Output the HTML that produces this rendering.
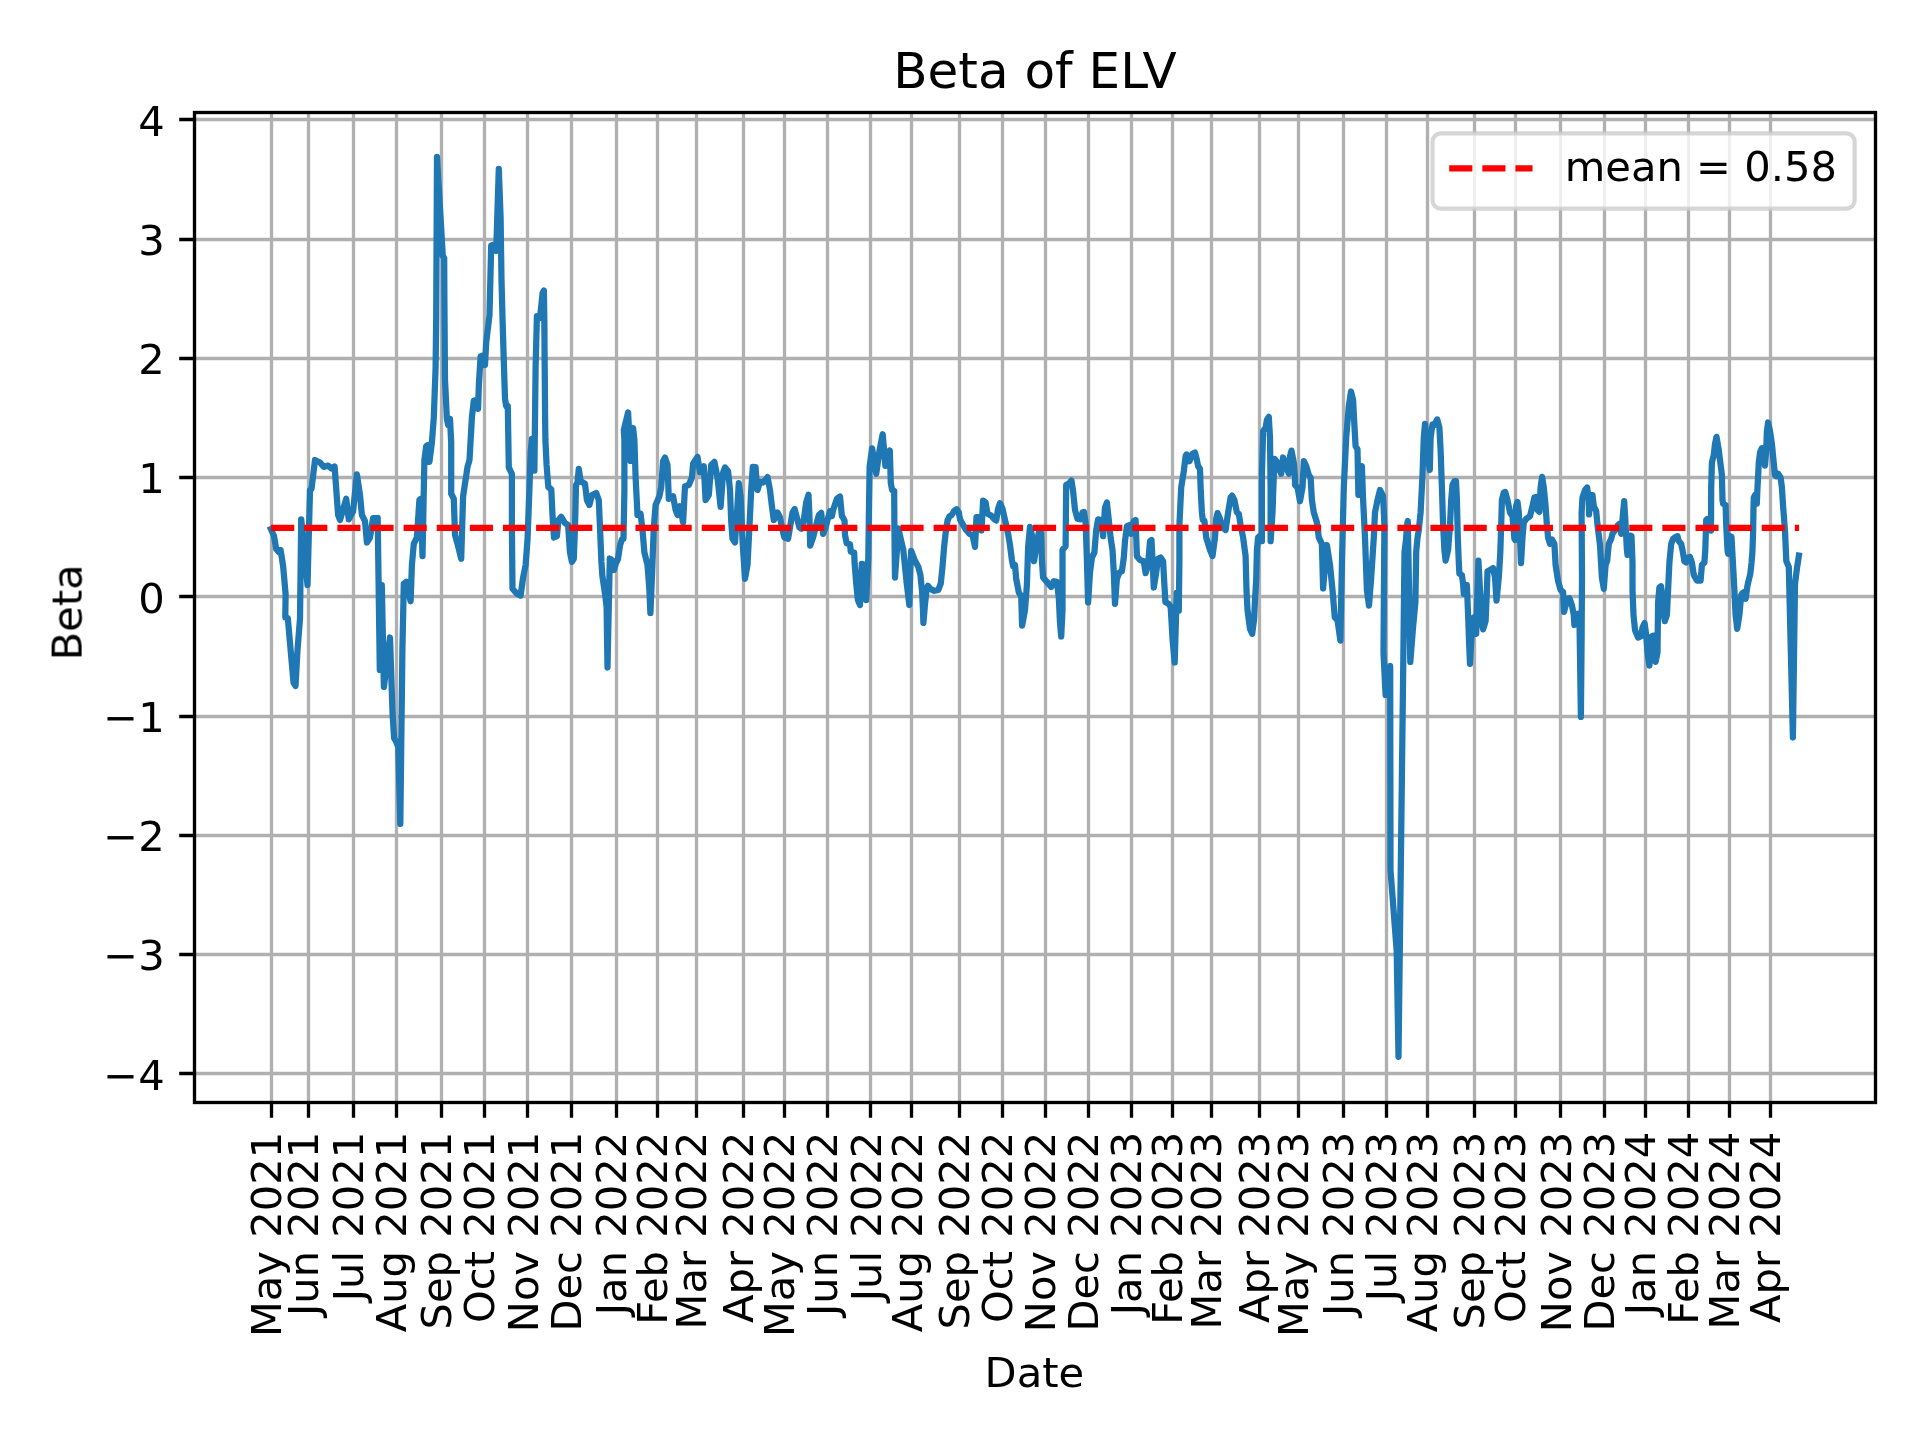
<!DOCTYPE html>
<html lang="en"><head><meta charset="utf-8"><title>Beta of ELV</title>
<style>html,body{margin:0;padding:0;background:#fff}svg{display:block}text{font-family:'DejaVu Sans','Liberation Sans',sans-serif;fill:#000}</style></head><body>
<svg width="1920" height="1440" viewBox="0 0 1920 1440">
<rect width="1920" height="1440" fill="#fff"/>
<path d="M271.50 112.5V1102.5M308.50 112.5V1102.5M353.50 112.5V1102.5M396.50 112.5V1102.5M441.50 112.5V1102.5M484.50 112.5V1102.5M527.50 112.5V1102.5M571.50 112.5V1102.5M616.50 112.5V1102.5M657.50 112.5V1102.5M696.50 112.5V1102.5M743.50 112.5V1102.5M784.50 112.5V1102.5M827.50 112.5V1102.5M870.50 112.5V1102.5M911.50 112.5V1102.5M959.50 112.5V1102.5M1002.50 112.5V1102.5M1045.50 112.5V1102.5M1088.50 112.5V1102.5M1131.50 112.5V1102.5M1172.50 112.5V1102.5M1211.50 112.5V1102.5M1259.50 112.5V1102.5M1298.50 112.5V1102.5M1343.50 112.5V1102.5M1386.50 112.5V1102.5M1427.50 112.5V1102.5M1474.50 112.5V1102.5M1515.50 112.5V1102.5M1560.50 112.5V1102.5M1604.50 112.5V1102.5M1645.50 112.5V1102.5M1688.50 112.5V1102.5M1729.50 112.5V1102.5M1770.50 112.5V1102.5M194.5 1073.50H1875.5M194.5 954.50H1875.5M194.5 835.50H1875.5M194.5 716.50H1875.5M194.5 596.50H1875.5M194.5 477.50H1875.5M194.5 358.50H1875.5M194.5 239.50H1875.5M194.5 119.50H1875.5" stroke="#b0b0b0" stroke-width="3.333" fill="none"/>
<path d="M271.50 1102.5v15.3M308.50 1102.5v15.3M353.50 1102.5v15.3M396.50 1102.5v15.3M441.50 1102.5v15.3M484.50 1102.5v15.3M527.50 1102.5v15.3M571.50 1102.5v15.3M616.50 1102.5v15.3M657.50 1102.5v15.3M696.50 1102.5v15.3M743.50 1102.5v15.3M784.50 1102.5v15.3M827.50 1102.5v15.3M870.50 1102.5v15.3M911.50 1102.5v15.3M959.50 1102.5v15.3M1002.50 1102.5v15.3M1045.50 1102.5v15.3M1088.50 1102.5v15.3M1131.50 1102.5v15.3M1172.50 1102.5v15.3M1211.50 1102.5v15.3M1259.50 1102.5v15.3M1298.50 1102.5v15.3M1343.50 1102.5v15.3M1386.50 1102.5v15.3M1427.50 1102.5v15.3M1474.50 1102.5v15.3M1515.50 1102.5v15.3M1560.50 1102.5v15.3M1604.50 1102.5v15.3M1645.50 1102.5v15.3M1688.50 1102.5v15.3M1729.50 1102.5v15.3M1770.50 1102.5v15.3M194.5 1073.50h-15.3M194.5 954.50h-15.3M194.5 835.50h-15.3M194.5 716.50h-15.3M194.5 596.50h-15.3M194.5 477.50h-15.3M194.5 358.50h-15.3M194.5 239.50h-15.3M194.5 119.50h-15.3" stroke="#000" stroke-width="3.333" fill="none"/>
<path d="M270.9 529.0L274.0 536.0L276.2 549.0L278.7 552.0L280.6 550.0L283.1 566.0L285.6 594.0L285.3 617.5L287.8 618.0L293.5 682.5L295.5 686.0L297.5 650.0L300.0 618.8L301.2 519.4L307.5 585.0L310.0 490.0L311.5 489.0L315.0 460.0L320.0 462.5L323.8 466.9L328.1 465.6L331.5 468.5L334.6 466.5L338.1 515.0L340.0 520.0L346.2 498.8L348.8 519.4L353.1 511.2L356.9 474.4L360.0 495.0L361.9 515.0L365.0 521.2L366.9 542.5L370.0 537.5L373.1 518.1L375.6 518.1L377.7 518.0L379.8 670.0L381.8 585.0L383.9 687.0L390.0 637.5L392.5 712.5L394.1 738.0L396.3 742.0L398.3 747.0L400.3 824.0L402.4 650.0L403.8 583.8L406.2 581.9L410.6 601.2L411.9 565.0L413.8 543.8L416.9 537.5L419.4 500.0L420.9 498.8L422.5 556.2L424.4 460.0L426.2 446.2L428.1 445.0L429.4 461.9L431.9 442.5L433.8 417.5L435.6 367.5L436.2 317.5L437.0 156.9L442.8 256.0L444.2 258.0L444.4 300.0L445.0 380.0L446.9 418.8L448.1 425.0L450.0 418.8L451.2 442.5L451.2 493.8L453.8 498.8L455.0 535.0L457.5 543.8L461.2 558.8L463.1 496.2L467.5 466.9L469.5 460.0L471.9 417.5L473.8 400.6L476.9 400.0L478.1 408.8L478.8 386.2L480.6 356.2L483.1 355.6L485.0 365.0L486.2 342.5L489.5 315.0L491.2 245.5L494.5 244.5L496.2 251.0L498.8 168.8L500.6 217.5L501.5 280.0L502.5 317.5L503.8 361.2L505.0 398.8L506.2 406.2L507.8 406.2L508.8 467.5L511.9 473.8L511.9 527.5L512.5 588.8L516.9 593.8L520.6 595.6L523.1 577.5L525.6 565.0L527.5 540.0L529.4 490.0L530.6 452.5L531.9 439.0L534.4 470.6L535.6 367.5L536.9 316.2L540.0 318.0L542.6 293.0L543.9 290.6L544.3 317.5L544.7 367.5L545.1 417.5L545.4 440.0L546.6 465.0L548.3 487.0L551.3 489.5L552.5 515.0L554.0 537.5L556.9 536.2L558.5 520.0L561.2 516.9L565.0 523.1L568.1 525.0L570.0 552.5L571.9 561.9L573.8 558.8L575.0 527.5L576.0 485.0L577.5 482.5L578.8 468.8L580.6 481.2L585.0 483.8L586.9 500.0L589.4 505.0L591.9 495.0L596.2 493.1L598.8 500.0L600.0 527.5L601.4 562.0L602.4 576.0L605.4 596.5L606.6 607.0L607.5 667.5L609.8 558.5L611.9 560.0L613.9 570.0L616.0 563.0L618.0 559.0L620.1 545.0L622.1 539.0L623.5 538.8L624.4 490.0L624.4 440.0L623.8 430.0L628.1 412.5L630.6 461.0L633.1 428.0L634.4 440.0L635.6 477.5L637.5 515.0L640.6 513.8L642.5 530.0L644.4 552.5L647.5 565.0L649.4 590.0L650.4 613.0L651.9 577.5L653.8 527.5L655.6 505.0L659.4 496.2L661.2 487.5L663.1 461.2L665.0 457.5L667.5 465.0L668.8 498.8L673.1 496.2L675.6 510.0L677.5 515.0L680.0 506.2L683.1 522.5L685.0 486.2L688.8 485.0L691.9 477.5L693.1 463.8L697.5 456.9L700.0 472.5L703.8 466.2L705.6 500.0L708.8 495.0L711.2 465.0L714.4 461.9L717.5 477.5L720.6 506.9L723.1 472.5L725.0 467.5L728.1 471.2L730.0 490.0L731.2 521.2L732.5 538.8L735.0 542.5L736.9 515.0L738.8 483.1L740.6 496.2L742.5 540.0L745.0 578.8L747.5 565.0L749.4 527.5L751.2 490.0L752.8 466.9L755.6 467.2L756.9 487.5L758.8 483.1L757.5 490.0L760.0 481.9L763.1 482.5L767.5 477.1L770.0 490.0L771.9 506.2L773.8 520.0L777.5 512.5L780.0 517.5L782.5 530.0L784.4 537.5L788.1 538.8L790.0 527.5L792.5 512.5L794.6 509.0L796.9 517.5L799.4 527.5L801.2 528.8L803.8 520.0L806.2 502.5L808.5 494.8L809.4 515.0L810.2 545.6L813.1 537.5L816.2 525.0L818.8 515.0L821.2 512.9L823.1 533.8L825.6 527.5L827.5 520.0L830.0 511.2L831.9 516.2L833.1 510.0L836.9 498.8L840.0 496.5L841.9 516.2L842.5 516.7L844.6 520.8L845.0 535.0L846.7 543.3L850.0 544.2L850.8 551.7L854.2 552.5L854.6 563.3L856.2 583.3L857.9 600.0L860.0 605.0L861.8 563.8L864.2 564.6L866.2 600.0L868.3 558.3L868.8 520.0L869.6 466.7L872.1 448.3L876.2 473.8L879.6 450.0L882.7 434.2L885.4 465.8L889.8 450.4L890.8 483.0L892.1 490.0L894.2 490.8L894.4 527.5L895.0 577.5L897.5 541.7L898.3 528.3L903.3 550.0L906.7 583.3L909.3 605.0L910.4 566.7L911.2 550.8L915.0 560.8L918.3 566.7L920.4 575.0L922.1 591.7L922.9 608.3L923.4 623.0L925.0 604.2L926.7 588.3L927.9 585.8L930.8 589.2L934.2 590.8L938.3 590.0L940.8 583.3L942.5 566.7L944.2 545.8L945.8 531.7L947.5 520.8L949.2 516.7L951.7 515.0L954.2 510.8L956.7 509.2L958.8 512.5L960.0 519.2L963.1 525.0L966.2 530.0L969.4 533.8L972.5 535.0L975.0 546.9L976.5 517.0L980.0 517.0L981.5 530.5L983.1 500.6L985.6 502.5L987.5 513.8L991.2 515.6L993.8 518.8L996.2 520.6L998.1 508.8L1000.0 503.1L1002.5 508.8L1005.0 520.0L1008.1 533.8L1010.0 545.0L1011.9 560.0L1013.1 566.2L1015.0 565.0L1016.2 578.8L1018.8 592.5L1021.2 596.2L1022.1 625.6L1025.0 610.0L1026.9 585.0L1028.1 547.5L1030.0 526.9L1031.9 535.0L1034.0 561.2L1036.2 547.5L1038.8 532.5L1041.2 533.1L1041.9 560.0L1043.1 577.5L1046.9 581.9L1051.2 586.9L1053.8 581.2L1056.9 581.9L1058.8 597.5L1060.0 622.5L1061.2 636.5L1062.5 610.0L1062.5 550.0L1065.6 546.2L1066.2 485.0L1069.4 483.1L1071.5 480.6L1073.1 491.2L1075.0 510.0L1077.5 518.8L1080.6 519.4L1082.5 512.5L1084.0 511.9L1085.6 522.5L1086.9 560.0L1088.1 602.5L1090.0 572.5L1091.9 557.5L1094.4 552.5L1096.2 530.0L1098.1 519.4L1101.2 520.0L1103.1 536.2L1105.0 507.5L1106.9 502.5L1108.8 520.0L1110.6 537.5L1112.5 550.0L1113.8 572.5L1115.0 603.8L1116.9 578.8L1119.4 572.5L1121.9 571.2L1123.8 557.5L1125.0 541.2L1126.9 526.2L1130.0 525.0L1131.2 533.8L1133.8 521.2L1135.6 520.0L1136.9 556.2L1140.0 560.0L1143.8 561.2L1145.6 573.1L1148.1 563.8L1150.0 541.2L1151.5 540.0L1153.1 572.5L1153.8 587.5L1156.2 572.5L1158.1 558.8L1160.6 557.5L1163.1 561.2L1164.4 585.0L1165.4 602.0L1168.8 604.0L1170.7 607.0L1172.6 640.0L1174.7 662.5L1176.7 593.0L1178.8 610.6L1179.4 560.0L1179.4 525.0L1181.2 487.5L1183.8 471.2L1185.6 456.2L1186.5 454.4L1189.4 461.2L1192.5 453.8L1195.0 452.5L1196.9 460.0L1198.1 466.2L1200.0 468.8L1200.6 487.5L1201.9 512.5L1202.8 520.0L1204.4 520.6L1206.2 537.5L1210.0 550.0L1212.5 556.0L1215.0 537.5L1216.2 518.8L1217.5 513.1L1220.0 518.8L1222.5 527.5L1225.6 530.0L1228.1 512.5L1230.6 497.5L1232.1 495.6L1234.4 500.0L1236.9 512.5L1238.8 513.8L1240.6 525.0L1243.1 537.5L1245.6 556.2L1246.5 590.0L1247.5 610.0L1250.0 629.0L1252.2 633.8L1254.1 618.8L1255.0 600.0L1256.2 580.0L1256.9 550.0L1258.1 537.5L1261.2 535.0L1261.9 541.2L1261.9 475.0L1263.1 431.2L1265.6 427.5L1266.9 420.0L1268.8 416.9L1270.0 437.5L1270.6 487.5L1270.6 541.2L1272.5 512.5L1274.4 458.8L1277.5 462.5L1279.4 470.0L1281.2 473.8L1283.1 457.5L1285.6 465.0L1288.8 473.8L1290.0 456.2L1291.5 450.6L1293.8 462.5L1295.0 477.5L1295.0 485.0L1297.5 487.5L1300.0 501.2L1302.5 487.5L1303.8 461.2L1306.2 466.2L1308.8 475.0L1310.6 477.5L1311.9 500.0L1313.8 512.5L1316.9 522.5L1318.8 537.5L1321.9 543.8L1323.1 588.5L1326.9 545.0L1330.0 565.0L1332.5 590.0L1334.8 617.5L1337.5 620.0L1340.4 640.6L1342.0 560.0L1343.8 487.5L1346.2 437.5L1348.8 406.2L1351.0 391.5L1353.1 400.0L1354.4 425.0L1355.6 446.2L1357.5 449.4L1358.4 495.0L1361.9 466.2L1363.1 500.0L1365.0 537.5L1366.9 590.0L1369.0 605.6L1371.2 577.5L1373.8 537.5L1375.0 512.5L1377.5 500.0L1380.0 490.0L1383.1 496.2L1384.4 525.0L1383.5 652.5L1385.6 695.0L1390.2 666.0L1390.5 870.0L1396.7 951.0L1398.5 1056.8L1403.3 660.0L1404.5 552.0L1406.0 540.0L1407.0 525.0L1407.8 521.0L1410.3 662.0L1413.0 628.0L1415.4 602.0L1416.2 552.0L1417.5 538.0L1418.8 530.0L1420.6 512.5L1422.5 475.0L1423.8 437.5L1425.0 423.8L1426.9 450.0L1429.8 470.0L1430.6 437.5L1432.5 424.4L1434.4 425.0L1437.2 419.4L1439.4 427.5L1440.6 450.0L1441.9 487.5L1443.1 525.0L1444.4 550.0L1445.6 560.6L1448.1 550.0L1450.0 525.0L1451.2 500.0L1452.5 485.0L1454.4 481.2L1456.0 481.2L1456.9 500.0L1457.8 537.5L1458.8 562.5L1459.4 573.8L1461.9 575.0L1463.1 583.8L1463.8 593.8L1466.9 585.0L1468.1 615.0L1469.0 640.0L1470.0 663.8L1471.9 627.5L1473.8 617.5L1476.2 633.8L1477.5 590.0L1478.4 560.6L1480.0 590.0L1481.9 621.2L1483.1 629.4L1485.6 621.2L1486.9 590.0L1487.5 571.2L1490.0 570.0L1493.1 568.1L1495.0 577.5L1496.5 600.6L1498.8 577.5L1500.3 552.5L1501.2 525.0L1501.9 500.0L1503.8 492.5L1505.2 491.9L1507.5 500.0L1510.0 512.5L1512.5 516.2L1514.4 538.8L1515.2 540.0L1516.0 506.2L1517.5 501.9L1518.8 512.5L1520.0 537.5L1521.0 563.1L1522.5 537.5L1523.8 522.5L1526.2 518.8L1530.0 516.2L1532.5 506.2L1534.4 497.5L1536.2 496.9L1537.5 510.0L1539.4 511.9L1540.6 487.5L1542.1 476.9L1543.8 487.5L1545.6 506.2L1546.9 525.0L1548.1 537.5L1550.0 543.8L1551.9 539.4L1554.4 543.8L1555.6 565.0L1558.1 581.2L1560.6 590.0L1563.1 591.9L1564.0 611.9L1567.5 598.8L1569.4 598.1L1571.9 605.0L1573.8 615.0L1574.4 625.0L1578.1 613.8L1579.4 615.0L1580.9 716.9L1581.6 640.0L1582.0 577.5L1581.6 512.5L1582.5 497.5L1585.0 490.0L1587.1 487.5L1588.8 500.0L1589.0 514.4L1590.6 495.0L1592.5 495.0L1593.8 506.2L1596.2 511.2L1597.5 525.0L1600.0 545.0L1601.9 577.5L1603.8 588.8L1605.6 565.0L1607.2 560.6L1608.8 543.8L1611.2 538.8L1612.5 533.8L1615.0 530.0L1618.1 525.0L1619.4 523.8L1621.2 533.8L1623.1 512.5L1624.2 501.2L1625.6 525.0L1626.9 550.0L1627.5 555.0L1630.0 535.6L1631.5 536.0L1632.5 562.5L1632.5 590.0L1633.5 615.0L1635.0 630.0L1638.1 637.5L1641.2 636.2L1642.5 627.5L1644.6 623.1L1646.2 635.0L1647.5 652.5L1649.4 665.6L1650.6 646.2L1651.9 636.2L1653.8 635.6L1655.0 652.5L1655.6 661.9L1657.5 652.5L1658.1 602.5L1659.4 587.5L1661.0 586.2L1662.5 596.2L1663.8 615.0L1664.8 621.2L1666.9 615.0L1668.1 590.0L1669.4 562.5L1671.2 543.8L1673.1 538.8L1675.6 536.9L1677.5 536.2L1678.8 541.2L1681.2 543.8L1682.5 550.0L1684.4 561.2L1686.2 562.5L1688.1 557.5L1690.0 556.9L1691.9 562.5L1693.8 575.0L1696.9 580.6L1700.6 580.6L1701.9 565.0L1704.4 562.5L1705.3 550.0L1706.2 520.0L1707.5 518.8L1710.6 518.8L1711.0 530.6L1711.2 487.5L1711.9 462.5L1713.8 455.0L1715.0 443.8L1716.5 436.9L1718.8 450.0L1720.0 460.0L1721.9 475.0L1722.5 500.0L1723.1 503.8L1725.6 505.0L1726.2 525.0L1727.5 550.0L1728.1 553.8L1730.0 536.2L1731.5 536.9L1732.5 555.0L1734.4 590.0L1735.6 615.0L1737.2 628.8L1739.4 615.0L1741.2 595.0L1742.5 593.1L1744.4 591.9L1745.6 598.8L1747.4 586.0L1749.0 579.0L1750.3 574.0L1751.5 563.0L1752.4 552.0L1753.1 532.0L1753.5 507.0L1753.8 497.5L1755.0 495.0L1756.8 503.8L1757.5 487.5L1758.8 462.5L1760.0 452.5L1761.9 448.1L1763.8 448.1L1765.0 465.6L1766.2 450.0L1766.9 431.2L1768.1 422.5L1770.0 431.2L1771.9 443.8L1773.1 456.2L1775.0 475.0L1776.2 476.2L1778.1 473.8L1780.6 477.5L1781.9 487.5L1783.1 506.2L1785.0 531.2L1786.3 561.0L1788.8 567.0L1792.9 737.5L1795.0 584.0L1797.0 568.0L1798.9 555.5" stroke="#1f77b4" stroke-width="6.25" fill="none" stroke-linejoin="round" stroke-linecap="square"/>
<path d="M271.1 527.8H1799.1" stroke="#ff0000" stroke-width="6.25" stroke-dasharray="23.125 10" fill="none"/>
<rect x="194.5" y="112.5" width="1681.0" height="990.00" fill="none" stroke="#000" stroke-width="3.333"/>
<rect x="1432.54" y="133.33" width="422.13" height="75.34" rx="8.33" ry="8.33" fill="#fff" fill-opacity="0.8" stroke="#cccccc" stroke-opacity="0.8" stroke-width="4.167"/>
<path d="M1449.2 168.42H1532.54" stroke="#ff0000" stroke-width="6.25" stroke-dasharray="23.125 10" fill="none"/>
<g opacity="0.999">
<text font-size="41.667" transform="translate(280.90 1337.10) rotate(-90)">May 2021</text>
<text font-size="41.667" transform="translate(317.86 1316.05) rotate(-90)">Jun 2021</text>
<text font-size="41.667" transform="translate(363.04 1301.22) rotate(-90)">Jul 2021</text>
<text font-size="41.667" transform="translate(406.16 1332.31) rotate(-90)">Aug 2021</text>
<text font-size="41.667" transform="translate(451.34 1329.49) rotate(-90)">Sep 2021</text>
<text font-size="41.667" transform="translate(494.46 1322.99) rotate(-90)">Oct 2021</text>
<text font-size="41.667" transform="translate(537.59 1332.28) rotate(-90)">Nov 2021</text>
<text font-size="41.667" transform="translate(580.71 1331.58) rotate(-90)">Dec 2021</text>
<text font-size="41.667" transform="translate(625.89 1315.18) rotate(-90)">Jan 2022</text>
<text font-size="41.667" transform="translate(666.96 1324.71) rotate(-90)">Feb 2022</text>
<text font-size="41.667" transform="translate(705.97 1329.56) rotate(-90)">Mar 2022</text>
<text font-size="41.667" transform="translate(753.21 1323.03) rotate(-90)">Apr 2022</text>
<text font-size="41.667" transform="translate(794.27 1337.10) rotate(-90)">May 2022</text>
<text font-size="41.667" transform="translate(837.40 1316.05) rotate(-90)">Jun 2022</text>
<text font-size="41.667" transform="translate(880.52 1301.22) rotate(-90)">Jul 2022</text>
<text font-size="41.667" transform="translate(921.59 1332.31) rotate(-90)">Aug 2022</text>
<text font-size="41.667" transform="translate(968.82 1329.49) rotate(-90)">Sep 2022</text>
<text font-size="41.667" transform="translate(1011.95 1322.99) rotate(-90)">Oct 2022</text>
<text font-size="41.667" transform="translate(1055.07 1332.28) rotate(-90)">Nov 2022</text>
<text font-size="41.667" transform="translate(1098.19 1331.58) rotate(-90)">Dec 2022</text>
<text font-size="41.667" transform="translate(1141.32 1315.18) rotate(-90)">Jan 2023</text>
<text font-size="41.667" transform="translate(1182.39 1324.71) rotate(-90)">Feb 2023</text>
<text font-size="41.667" transform="translate(1221.40 1329.56) rotate(-90)">Mar 2023</text>
<text font-size="41.667" transform="translate(1268.63 1323.03) rotate(-90)">Apr 2023</text>
<text font-size="41.667" transform="translate(1307.65 1337.10) rotate(-90)">May 2023</text>
<text font-size="41.667" transform="translate(1352.83 1316.05) rotate(-90)">Jun 2023</text>
<text font-size="41.667" transform="translate(1395.95 1301.22) rotate(-90)">Jul 2023</text>
<text font-size="41.667" transform="translate(1437.02 1332.31) rotate(-90)">Aug 2023</text>
<text font-size="41.667" transform="translate(1484.25 1329.49) rotate(-90)">Sep 2023</text>
<text font-size="41.667" transform="translate(1525.32 1322.99) rotate(-90)">Oct 2023</text>
<text font-size="41.667" transform="translate(1570.50 1332.28) rotate(-90)">Nov 2023</text>
<text font-size="41.667" transform="translate(1613.62 1331.58) rotate(-90)">Dec 2023</text>
<text font-size="41.667" transform="translate(1654.69 1315.18) rotate(-90)">Jan 2024</text>
<text font-size="41.667" transform="translate(1697.81 1324.71) rotate(-90)">Feb 2024</text>
<text font-size="41.667" transform="translate(1738.88 1329.56) rotate(-90)">Mar 2024</text>
<text font-size="41.667" transform="translate(1779.95 1323.03) rotate(-90)">Apr 2024</text>
<text font-size="41.667" text-anchor="end" x="164.7" y="1089.73">−4</text>
<text font-size="41.667" text-anchor="end" x="164.7" y="970.48">−3</text>
<text font-size="41.667" text-anchor="end" x="164.7" y="851.23">−2</text>
<text font-size="41.667" text-anchor="end" x="164.7" y="731.98">−1</text>
<text font-size="41.667" text-anchor="end" x="164.7" y="612.73">0</text>
<text font-size="41.667" text-anchor="end" x="164.7" y="493.48">1</text>
<text font-size="41.667" text-anchor="end" x="164.7" y="374.23">2</text>
<text font-size="41.667" text-anchor="end" x="164.7" y="254.98">3</text>
<text font-size="41.667" text-anchor="end" x="164.7" y="135.73">4</text>
<text font-size="41.667" text-anchor="middle" x="1034.4" y="1387.0">Date</text>
<text font-size="41.667" text-anchor="middle" transform="translate(81.6 612.4) rotate(-90)">Beta</text>
<text font-size="50" text-anchor="middle" x="1035" y="87.5">Beta of ELV</text>
<text font-size="41.667" x="1564.7" y="181.1">mean = 0.58</text>
</g>
</svg></body></html>
